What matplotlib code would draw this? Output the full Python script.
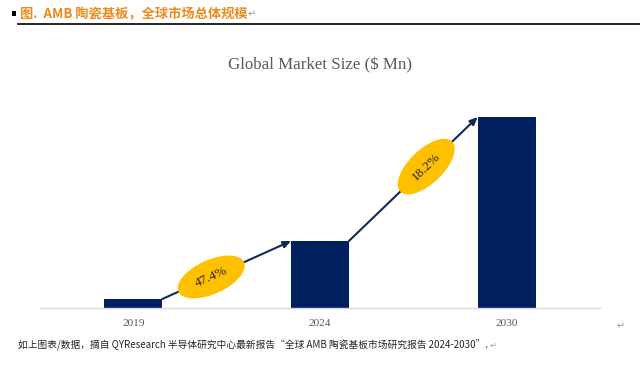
import numpy as np
import matplotlib
matplotlib.use("Agg")
import matplotlib.pyplot as plt
from matplotlib.patches import Ellipse, Rectangle
from matplotlib.transforms import IdentityTransform

# ---- data ----
years = ["2019", "2024", "2030"]
market_size = [9, 67, 191]          # relative bar heights
cagr_labels = ["47.4%", "18.2%"]
title = "Global Market Size ($ Mn)"
header = "图.  AMB 陶瓷基板，全球市场总体规模"
footer = "如上图表/数据，摘自 QYResearch 半导体研究中心最新报告“全球 AMB 陶瓷基板市场研究报告 2024-2030”."

W, H, DPI = 640, 366, 100
fig = plt.figure(figsize=(W / DPI, H / DPI), dpi=DPI)
fig.patch.set_facecolor("white")

cjk = ["Noto Sans CJK SC", "DejaVu Sans"]
serif = ["Liberation Serif", "DejaVu Serif"]

def fx(px):
    return px / W

def fy(py):
    return 1 - py / H

# axes area
ax = fig.add_axes([fx(40), fy(308), fx(600) - fx(40), fy(100) - fy(308)])
x = np.arange(len(years))
bar_w = 0.31
bar_color = "#002060"
ax.bar(x, market_size, width=bar_w, color=bar_color, zorder=2)
ax.set_xlim(-0.5, len(years) - 0.5)
ax.set_ylim(0, 208)
for s in ["top", "right", "left"]:
    ax.spines[s].set_visible(False)
ax.spines["bottom"].set_color("#D9D9D9")
ax.spines["bottom"].set_linewidth(1.0)
ax.set_yticks([])
ax.set_xticks(x)
ax.set_xticklabels(years, fontfamily=serif, fontsize=8.2, color="#595959")
ax.tick_params(axis="x", length=0, pad=8)

# title
fig.text(0.5, fy(65), title, ha="center", va="center", fontfamily=serif,
         fontsize=12.2, color="#595959")

fig.canvas.draw()

# growth arrows and ellipses
arrow_color = "#102A5E"
fracs = [0.38, 0.6]
for i in range(len(years) - 1):
    p0 = (x[i] + bar_w / 2, market_size[i])
    p1 = (x[i + 1] - bar_w / 2, market_size[i + 1])
    ax.annotate("", xy=p1, xytext=p0,
                arrowprops=dict(arrowstyle="-|>,head_length=0.45,head_width=0.2",
                                color=arrow_color, lw=1.5,
                                shrinkA=0, shrinkB=0), zorder=3)
    d0 = ax.transData.transform(p0)
    d1 = ax.transData.transform(p1)
    ang = np.degrees(np.arctan2(d1[1] - d0[1], d1[0] - d0[0]))
    c = d0 + fracs[i] * (d1 - d0)
    e = Ellipse(c, 72, 34, angle=ang, transform=IdentityTransform(),
                facecolor="#FFC000", edgecolor="none", zorder=4)
    fig.add_artist(e)
    fig.text(c[0] / W, c[1] / H, cagr_labels[i], ha="center", va="center",
             rotation=ang, rotation_mode="anchor", fontfamily=serif,
             fontsize=9.5, color="#262626", zorder=5)

# header
fig.add_artist(Rectangle((fx(12), fy(16)), fx(4), 5 / H, transform=fig.transFigure,
                         facecolor="black", edgecolor="none"))
fig.text(fx(20), fy(14), header, ha="left", va="center", fontfamily=cjk,
         fontsize=9.5, fontweight="bold", color="#EE8A1D")
fig.text(fx(248), fy(14), "↵", ha="left", va="center", fontfamily=["DejaVu Sans"],
         fontsize=7, color="#A0A0A0")
fig.add_artist(plt.Line2D([fx(18), 1.0], [fy(24), fy(24)], transform=fig.transFigure,
                          color="black", lw=1.2))

# footer
fig.text(fx(18), fy(345), footer, ha="left", va="center", fontfamily=cjk,
         fontsize=7, style="italic", color="#262626")
fig.text(fx(490), fy(345), "↵", ha="left", va="center", fontfamily=["DejaVu Sans"],
         fontsize=6, color="#A0A0A0")
fig.text(fx(617), fy(326), "↵", ha="left", va="center", fontfamily=["DejaVu Sans"],
         fontsize=7, color="#A0A0A0")

fig.savefig("out.png", dpi=DPI, facecolor="white")
